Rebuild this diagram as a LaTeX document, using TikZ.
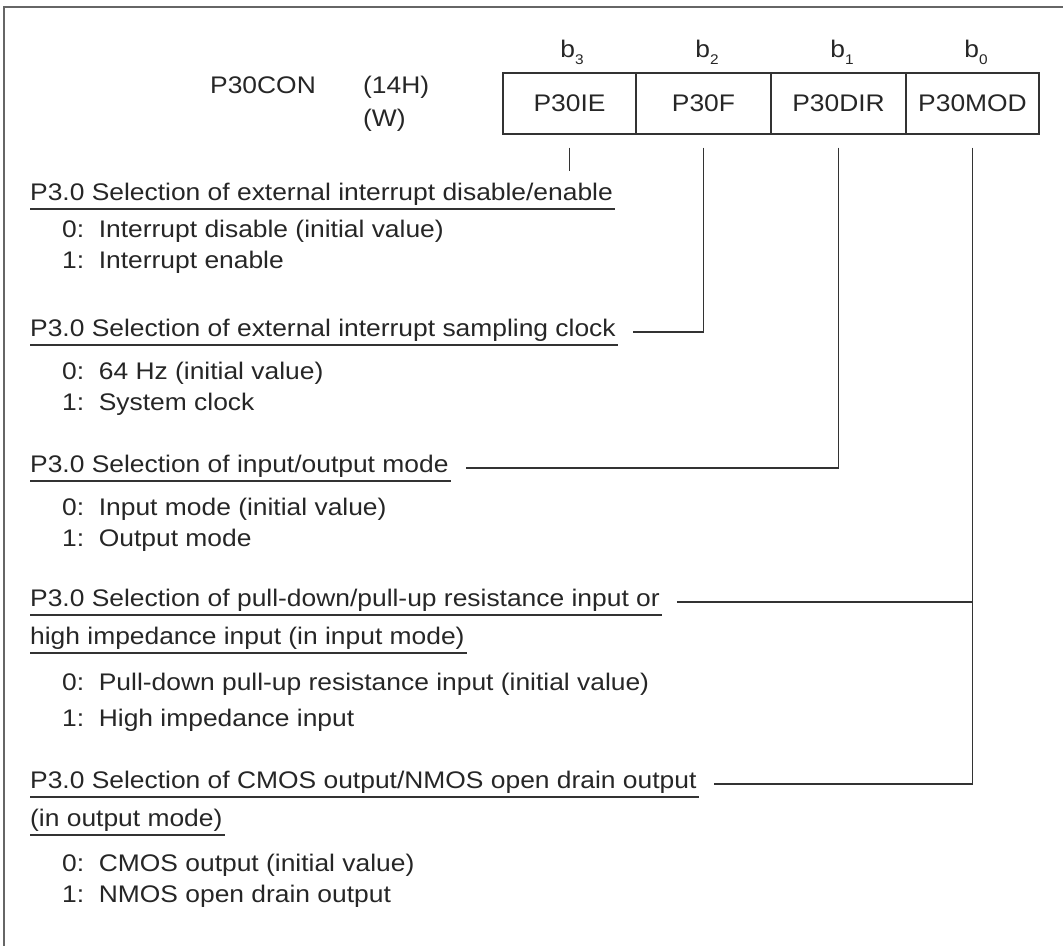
\documentclass[tikz,border=0pt]{standalone}
\usepackage{fontspec}
\setmainfont[FakeStretch=1.1]{Liberation Sans}
\begin{document}
\begin{tikzpicture}[x=1pt,y=1pt,
  txt/.style={inner sep=0pt,anchor=base west,text=black!85,font=\fontsize{24}{28}\selectfont},
  cell/.style={draw=black!80,line width=1.1pt,minimum height=61pt,inner sep=0pt,text=black!85,font=\fontsize{24}{28}\selectfont},
  blab/.style={inner sep=0pt,anchor=base,text=black!85,font=\fontsize{24}{28}\selectfont},
  wire/.style={draw=black!80,line width=1.2pt},
  uline/.style={draw=black!80,line width=1.2pt},
  frame/.style={draw=black!60,line width=2.4pt}]
\useasboundingbox (0,0) rectangle (1063,-946);
\newcommand{\bsub}[1]{b\raisebox{-7pt}{\fontsize{14}{14}\selectfont #1}}
% frame
\draw[frame] (1063,-7) -- (4,-7) -- (4,-946);
% register header
\node[txt] (reg) at (210,-93) {P30CON};
\node[txt] (addr) at (363,-93) {(14H)};
\node[txt] (rw) at (363,-126) {(W)};
\node[cell,minimum width=133pt] (c3) at (569.5,-103.5) {P30IE};
\node[cell,minimum width=135pt] (c2) at (703.5,-103.5) {P30F};
\node[cell,minimum width=135pt] (c1) at (838.5,-103.5) {P30DIR};
\node[cell,minimum width=133pt] (c0) at (972.5,-103.5) {P30MOD};
\node[blab] (b3) at (572,-57) {\bsub{3}};
\node[blab] (b2) at (707,-57) {\bsub{2}};
\node[blab] (b1) at (842,-57) {\bsub{1}};
\node[blab] (b0) at (976,-57) {\bsub{0}};
% headings and items
\node[txt] (h1) at (30,-200) {P3.0 Selection of external interrupt disable/enable};
\node[txt] (i1a) at (62,-237) {0:\ \ Interrupt disable (initial value)};
\node[txt] (i1b) at (62,-268) {1:\ \ Interrupt enable};
\node[txt] (h2) at (30,-336) {P3.0 Selection of external interrupt sampling clock};
\node[txt] (i2a) at (62,-379) {0:\ \ 64 Hz (initial value)};
\node[txt] (i2b) at (62,-410) {1:\ \ System clock};
\node[txt] (h3) at (30,-472) {P3.0 Selection of input/output mode};
\node[txt] (i3a) at (62,-515) {0:\ \ Input mode (initial value)};
\node[txt] (i3b) at (62,-546) {1:\ \ Output mode};
\node[txt] (h4) at (30,-606) {P3.0 Selection of pull-down/pull-up resistance input or};
\node[txt] (h4b) at (30,-644) {high impedance input (in input mode)};
\node[txt] (i4a) at (62,-690) {0:\ \ Pull-down pull-up resistance input (initial value)};
\node[txt] (i4b) at (62,-726) {1:\ \ High impedance input};
\node[txt] (h5) at (30,-788) {P3.0 Selection of CMOS output/NMOS open drain output};
\node[txt] (h5b) at (30,-826) {(in output mode)};
\node[txt] (i5a) at (62,-871) {0:\ \ CMOS output (initial value)};
\node[txt] (i5b) at (62,-902) {1:\ \ NMOS open drain output};
% underlines
\foreach \n in {h1,h2,h3,h4,h4b,h5,h5b}
  \draw[uline] ([yshift=-9pt]\n.base west) -- ([yshift=-9pt,xshift=2pt]\n.base east);
% connectors
\coordinate (k2) at ([xshift=17pt,yshift=4pt]h2.base east);
\coordinate (k3) at ([xshift=17pt,yshift=4pt]h3.base east);
\coordinate (k4) at ([xshift=17pt,yshift=4pt]h4.base east);
\coordinate (k5) at ([xshift=17pt,yshift=4pt]h5.base east);
\draw[wire] ([yshift=-13pt]c3.south) -- ([yshift=-36pt]c3.south);
\draw[wire] ([yshift=-13pt]c2.south) |- (k2);
\draw[wire] ([yshift=-13pt]c1.south) |- (k3);
\draw[wire] ([yshift=-13pt]c0.south) |- (k5);
\draw[wire] (k4) -- (c0.south |- k4);
\end{tikzpicture}
\end{document}
